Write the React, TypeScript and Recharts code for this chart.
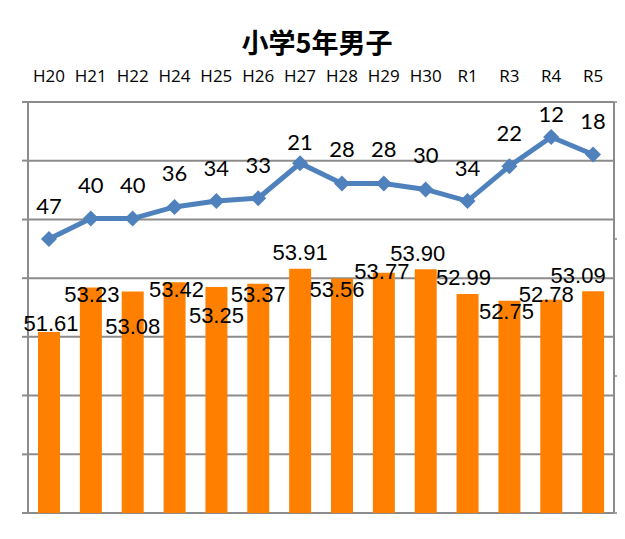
import React from 'react';
import {
  ComposedChart,
  Bar,
  Line,
  XAxis,
  YAxis,
  CartesianGrid,
  LabelList,
} from 'recharts';

// 年度
const years = ['H20', 'H21', 'H22', 'H24', 'H25', 'H26', 'H27', 'H28', 'H29', 'H30', 'R1', 'R3', 'R4', 'R5'];
// 体力合計点（棒）
const scores = [51.61, 53.23, 53.08, 53.42, 53.25, 53.37, 53.91, 53.56, 53.77, 53.9, 52.99, 52.75, 52.78, 53.09];
// 全国順位（折れ線）
const ranks = [47, 40, 40, 36, 34, 33, 21, 28, 28, 30, 34, 22, 12, 18];

const scoreTicks = [45, 47.14, 49.29, 51.43, 53.57, 55.71, 57.86, 60];
const rankTicks = [0, 47, 94, 141];
const edgeTicks = [0, 1, 2, 3, 4, 5, 6, 7, 8, 9, 10, 11, 12, 13, 14];

// label placement tweaks (dx, dy) to mimic the original's manual layout
const barLabelNudge: [number, number][] = [
  [2, -8], [1, 7], [0, 35], [2, 7], [0, 29], [0, 11], [0, -16],
  [-5, 11], [-2, -1], [-8, -16], [-4, -17], [-3, 11], [-5, -5], [-15, -16],
];
const lineLabelDy = [-34, -34, -34, -34, -34, -34, -22, -35, -35, -35, -34, -34, -23, -34];

const data = years.map((year, i) => ({ year, score: scores[i], rank: ranks[i] }));

const GRID = '#8c8c8c';

// keeps tick marks but draws no tick text
const NoText = () => <g />;

const Diamond = (props: any) => {
  const { cx, cy, index } = props;
  if (cx == null || cy == null) return <g key={index} />;
  const r = 8;
  return (
    <polygon
      key={index}
      points={`${cx},${cy - r} ${cx + r},${cy} ${cx},${cy + r} ${cx - r},${cy}`}
      fill="#4f81bd"
    />
  );
};

const BarValue = (props: any) => {
  const { x, y, width, value, index } = props;
  const [dx, dy] = barLabelNudge[index] || [0, -10];
  return (
    <text
      x={x + width / 2 + dx}
      y={y + dy}
      textAnchor="middle"
      dominantBaseline="central"
      fontFamily="'Liberation Sans', Arial, sans-serif"
      fontSize={22}
      fill="#000"
    >
      {Number(value).toFixed(2)}
    </text>
  );
};

const RankValue = (props: any) => {
  const { x, y, value, index } = props;
  return (
    <text
      x={x}
      y={y + (lineLabelDy[index] ?? -34)}
      textAnchor="middle"
      dominantBaseline="central"
      fontFamily="Lato, sans-serif"
      fontSize={22}
      fill="#000"
    >
      {value}
    </text>
  );
};

export default function App() {
  return (
    <div style={{ position: 'relative', width: 625, height: 539, margin: -8, overflow: 'hidden', background: '#fff' }}>
      <div
        style={{
          position: 'absolute',
          left: 4,
          top: 4,
          width: 700,
          height: 700,
          border: '2px solid #a6a6a6',
        }}
      />
      <div
        style={{
          position: 'absolute',
          left: 0,
          top: 25,
          width: 634,
          textAlign: 'center',
          fontFamily: "'Noto Sans CJK JP', sans-serif",
          fontWeight: 700,
          fontSize: 27,
          lineHeight: '34px',
          color: '#000',
        }}
      >
        小学5年男子
      </div>
      <div style={{ position: 'absolute', left: 0, top: 0 }}>
        <ComposedChart
          width={625}
          height={539}
          data={data}
          margin={{ top: 62, right: 0, bottom: 26, left: 0 }}
        >
          <CartesianGrid yAxisId="score" vertical={false} stroke={GRID} strokeWidth={2} />
          <XAxis
            xAxisId="edge"
            type="number"
            orientation="top"
            domain={[0, 14]}
            allowDataOverflow
            ticks={edgeTicks}
            tick={NoText}
            tickSize={6}
            height={0}
            axisLine={{ stroke: GRID, strokeWidth: 2 }}
            tickLine={{ stroke: GRID, strokeWidth: 1.5 }}
          />
          <XAxis
            dataKey="year"
            orientation="top"
            height={40}
            axisLine={false}
            tickLine={false}
            tickSize={0}
            tickMargin={20}
            interval={0}
            tick={{ fontSize: 17, fill: '#000', fontFamily: "'Open Sans', sans-serif" }}
          />
          <YAxis
            yAxisId="score"
            domain={[45, 60]}
            ticks={scoreTicks}
            allowDataOverflow
            width={28}
            tick={NoText}
            tickSize={6}
            axisLine={{ stroke: GRID, strokeWidth: 2 }}
            tickLine={{ stroke: GRID, strokeWidth: 2 }}
          />
          <YAxis
            yAxisId="rank"
            orientation="right"
            reversed
            domain={[0, 141]}
            ticks={rankTicks}
            allowDataOverflow
            width={11}
            tick={NoText}
            tickSize={6}
            axisLine={{ stroke: GRID, strokeWidth: 2 }}
            tickLine={{ stroke: GRID, strokeWidth: 1.5 }}
          />
          <Bar yAxisId="score" dataKey="score" fill="#ff8000" barSize={22} isAnimationActive={false}>
            <LabelList dataKey="score" content={BarValue} />
          </Bar>
          <Line
            yAxisId="rank"
            dataKey="rank"
            stroke="#4f81bd"
            strokeWidth={5}
            dot={Diamond}
            activeDot={false}
            isAnimationActive={false}
          >
            <LabelList dataKey="rank" content={RankValue} />
          </Line>
        </ComposedChart>
      </div>
    </div>
  );
}
